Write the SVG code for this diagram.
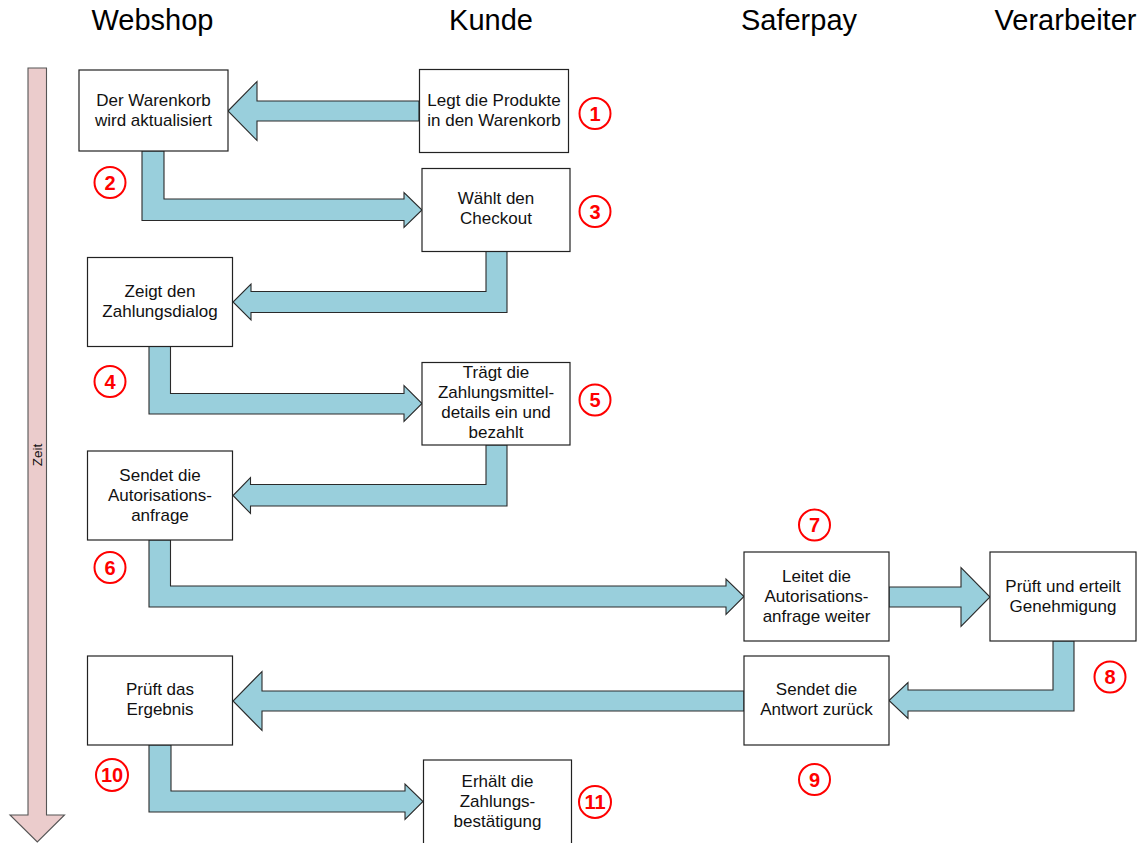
<svg xmlns="http://www.w3.org/2000/svg" width="1143" height="843" viewBox="0 0 1143 843">
<style>
.hdr{font-family:"Liberation Sans",Arial,sans-serif;font-size:29px;fill:#000;text-anchor:middle}
.box{fill:#fff;stroke:#222;stroke-width:1.2}
.bt{font-family:"Liberation Sans",Arial,sans-serif;font-size:17px;fill:#111;text-anchor:middle}
.arr{fill:#99CFDC;stroke:#2a2a2a;stroke-width:1.1;stroke-linejoin:miter}
.num circle{fill:#fff;stroke:#f00;stroke-width:2}
.num text{font-family:"Liberation Sans",Arial,sans-serif;font-size:20px;font-weight:bold;fill:#f00;text-anchor:middle}
</style>
<rect width="1143" height="843" fill="#fff"/>
<g id="headers">
<text class="hdr" x="152.5" y="30">Webshop</text>
<text class="hdr" x="491" y="30">Kunde</text>
<text class="hdr" x="799" y="30">Saferpay</text>
<text class="hdr" x="1065.5" y="30">Verarbeiter</text>
</g>
<g id="timeline">
<polygon points="28,68 46.5,68 46.5,815 64.5,815 37.3,842 10,815 28,815" fill="#EBCCCC" stroke="#555" stroke-width="1.1"/>
<text x="42" y="455" transform="rotate(-90 42 455)" font-family="Liberation Sans, Arial, sans-serif" font-size="13.5" text-anchor="middle" fill="#111">Zeit</text>
</g>
<g id="connectors">
<polygon class="arr" points="228,111 257,81.5 257,101 419,101 419,121 257,121 257,140.5"/>
<polygon class="arr" points="142,151 142,220.5 404,220.5 404,227.5 422,210 404,192.5 404,199 164,199 164,151"/>
<polygon class="arr" points="486,251 486,291.5 251,291.5 251,284 233,302 251,320 251,312.5 507,312.5 507,251"/>
<polygon class="arr" points="149,346 149,414 404,414 404,421.5 422,403.5 404,385.5 404,393.5 170.5,393.5 170.5,346"/>
<polygon class="arr" points="486,445 486,484.5 250.5,484.5 250.5,477.5 233,495.5 250.5,513.5 250.5,506 507,506 507,445"/>
<polygon class="arr" points="149,540 149,607 726,607 726,614.5 744,596.5 726,579 726,586 170.5,586 170.5,540"/>
<polygon class="arr" points="889,587 961,587 961,567.5 990,597 961,626.5 961,607 889,607"/>
<polygon class="arr" points="1053,641 1053,690 908,690 908,682.5 889,700.5 908,718.5 908,711 1074,711 1074,641"/>
<polygon class="arr" points="744,691 262,691 262,671.5 233,701 262,730.5 262,711 744,711"/>
<polygon class="arr" points="149,745 149,812 405,812 405,819.5 423,801.5 405,784 405,791 171,791 171,745"/>
</g>
<g id="n-warenkorb">
<rect class="box" x="79" y="70" width="149" height="81"/>
<text class="bt" x="153.5" y="106">Der Warenkorb</text>
<text class="bt" x="153.5" y="126">wird aktualisiert</text>
</g>
<g id="n-legt">
<rect class="box" x="419.5" y="69.5" width="149" height="83"/>
<text class="bt" x="494" y="106">Legt die Produkte</text>
<text class="bt" x="494" y="126">in den Warenkorb</text>
</g>
<g id="n-checkout">
<rect class="box" x="422" y="168.5" width="148" height="83"/>
<text class="bt" x="496" y="204">Wählt den</text>
<text class="bt" x="496" y="224">Checkout</text>
</g>
<g id="n-zahlungsdialog">
<rect class="box" x="87.5" y="257.5" width="145" height="89"/>
<text class="bt" x="160" y="297">Zeigt den</text>
<text class="bt" x="160" y="317">Zahlungsdialog</text>
</g>
<g id="n-traegt">
<rect class="box" x="422" y="362.5" width="148" height="82.5"/>
<text class="bt" x="496" y="378">Trägt die</text>
<text class="bt" x="496" y="398">Zahlungsmittel-</text>
<text class="bt" x="496" y="418">details ein und</text>
<text class="bt" x="496" y="438">bezahlt</text>
</g>
<g id="n-sendet-anfrage">
<rect class="box" x="87.5" y="451" width="145" height="89"/>
<text class="bt" x="160" y="481">Sendet die</text>
<text class="bt" x="160" y="501">Autorisations-</text>
<text class="bt" x="160" y="521">anfrage</text>
</g>
<g id="n-leitet">
<rect class="box" x="744" y="552" width="145" height="89"/>
<text class="bt" x="816.5" y="582">Leitet die</text>
<text class="bt" x="816.5" y="602">Autorisations-</text>
<text class="bt" x="816.5" y="622">anfrage weiter</text>
</g>
<g id="n-prueft-genehmigung">
<rect class="box" x="990" y="552" width="146" height="89"/>
<text class="bt" x="1063" y="592">Prüft und erteilt</text>
<text class="bt" x="1063" y="612">Genehmigung</text>
</g>
<g id="n-antwort">
<rect class="box" x="744" y="656" width="145" height="89"/>
<text class="bt" x="816.5" y="695">Sendet die</text>
<text class="bt" x="816.5" y="715">Antwort zurück</text>
</g>
<g id="n-ergebnis">
<rect class="box" x="87.5" y="656" width="145" height="89"/>
<text class="bt" x="160" y="695">Prüft das</text>
<text class="bt" x="160" y="715">Ergebnis</text>
</g>
<g id="n-bestaetigung">
<rect class="box" x="423.5" y="760" width="148" height="84"/>
<text class="bt" x="497.5" y="787">Erhält die</text>
<text class="bt" x="497.5" y="807">Zahlungs-</text>
<text class="bt" x="497.5" y="827">bestätigung</text>
</g>
<g id="numbers" class="num">
<g id="num1"><circle cx="595" cy="113.5" r="15.5"/><text x="595" y="120.5">1</text></g>
<g id="num2"><circle cx="110" cy="182.5" r="15.5"/><text x="110" y="189.5">2</text></g>
<g id="num3"><circle cx="595" cy="211.5" r="15.5"/><text x="595" y="218.5">3</text></g>
<g id="num4"><circle cx="110" cy="381.5" r="15.5"/><text x="110" y="388.5">4</text></g>
<g id="num5"><circle cx="595" cy="400" r="15.5"/><text x="595" y="407">5</text></g>
<g id="num6"><circle cx="110" cy="567.5" r="15.5"/><text x="110" y="574.5">6</text></g>
<g id="num7"><circle cx="814.5" cy="525" r="15.5"/><text x="814.5" y="532">7</text></g>
<g id="num8"><circle cx="1110" cy="677" r="15.5"/><text x="1110" y="684">8</text></g>
<g id="num9"><circle cx="814.5" cy="779.5" r="15.5"/><text x="814.5" y="786.5">9</text></g>
<g id="num10"><circle cx="112" cy="775" r="16"/><text x="112" y="782">10</text></g>
<g id="num11"><circle cx="595" cy="802" r="16"/><text x="595" y="809">11</text></g>
</g>
</svg>
